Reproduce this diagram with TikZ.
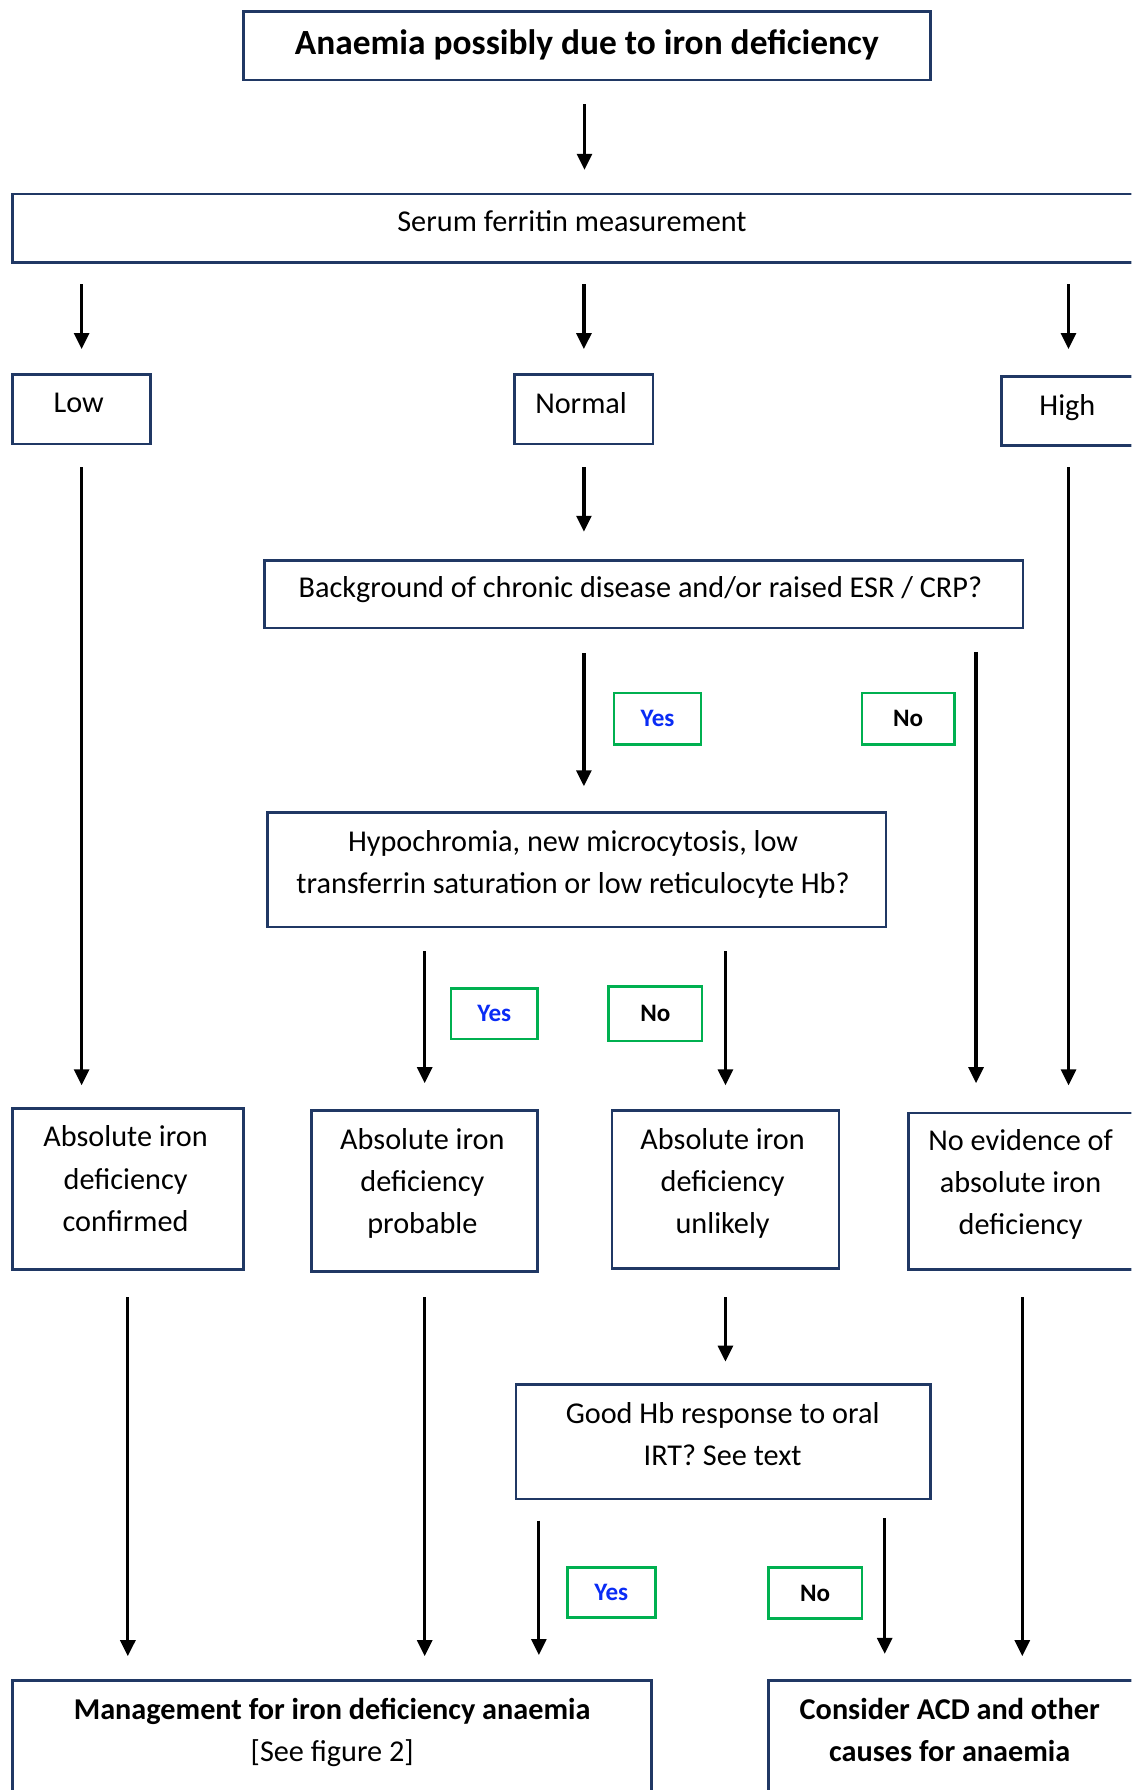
\documentclass[tikz,border=0pt]{standalone}
\usepackage{fontspec}
\setmainfont{Carlito}
\usetikzlibrary{arrows.meta}
\definecolor{navy}{HTML}{203864}
\definecolor{lblgreen}{HTML}{00B050}
\definecolor{yesblue}{HTML}{0A2CF5}
\newcommand{\bodyfont}{\fontsize{26.5}{37}\selectfont}
\newcommand{\titlefont}{\fontsize{31}{37}\selectfont\bfseries}
\newcommand{\lblfont}{\fontsize{22}{26}\selectfont\bfseries}
\begin{document}
\begin{tikzpicture}[x=1pt,y=-1pt,
  box/.style={draw=navy, line width=2.4pt, inner sep=0pt},
  lbl/.style={draw=lblgreen, line width=2.3pt, inner sep=0pt, font=\lblfont, text height=14pt, text depth=0pt},
  txt/.style={anchor=north, inner sep=0pt, align=center, font=\bodyfont},
  arr/.style={line width=2.8pt, -{Triangle[length=14pt,width=13pt]}}]
\clip (0,0) rectangle (991,1568);
% boxes
\node[box, minimum width=602pt, minimum height=60pt] (top) at (514,40) {};
\node[box, minimum width=983pt, minimum height=60pt] (serum) at (502.5,200) {};
\node[box, minimum width=121pt, minimum height=61pt] (low) at (71.5,358.5) {};
\node[box, minimum width=121pt, minimum height=61pt] (normal) at (511.5,358.5) {};
\node[box, minimum width=118pt, minimum height=60pt] (high) at (936,360) {};
\node[box, minimum width=664pt, minimum height=59pt] (bg) at (564,520.5) {};
\node[box, minimum width=542pt, minimum height=100pt] (hypo) at (505,762) {};
\node[box, minimum width=202pt, minimum height=141pt] (b1) at (112,1041.5) {};
\node[box, minimum width=198pt, minimum height=141pt] (b2) at (372,1043.5) {};
\node[box, minimum width=199pt, minimum height=138pt] (b3) at (635.5,1042) {};
\node[box, minimum width=199pt, minimum height=137pt] (b4) at (895.5,1043.5) {};
\node[box, minimum width=363pt, minimum height=100pt] (good) at (633.5,1263) {};
\node[box, minimum width=560pt, minimum height=108pt] (mgmt) at (291,1526) {};
\node[box, minimum width=322pt, minimum height=108pt] (cons) at (834,1526) {};
% texts
\node[txt, font=\titlefont] (toptxt) at (514,26) {Anaemia possibly due to iron deficiency};
\node[txt] (serumtxt) at (501,184) {Serum ferritin measurement};
\node[txt] (lowtxt) at (69,344) {Low};
\node[txt] (normaltxt) at (509,344) {Normal};
\node[txt] (hightxt) at (935,345) {High};
\node[txt] (bgtxt) at (561,505) {Background of chronic disease and/or raised ESR / CRP?};
\node[txt] (hypotxt) at (502,727) {Hypochromia, new microcytosis, low\\transferrin saturation or low reticulocyte Hb?};
\node[txt] (b1txt) at (110,986) {Absolute iron\\deficiency\\confirmed};
\node[txt] (b2txt) at (370,988) {Absolute iron\\deficiency\\probable};
\node[txt] (b3txt) at (633,988) {Absolute iron\\deficiency\\unlikely};
\node[txt] (b4txt) at (894,989) {No evidence of\\absolute iron\\deficiency};
\node[txt] (goodtxt) at (633,1228) {Good Hb response to oral\\IRT? See text};
\node[txt] (mgmttxt) at (291,1487) {{\bfseries Management for iron deficiency anaemia}\\{[See figure 2]}};
\node[txt, font=\bodyfont\bfseries] (constxt) at (832,1487) {Consider ACD and other\\causes for anaemia};
% labels
\node[lbl, minimum width=76pt, minimum height=45pt, text=yesblue] (yes1) at (576,629.5) {Yes};
\node[lbl, minimum width=81pt, minimum height=45pt] (no1) at (795.5,629.5) {No};
\node[lbl, minimum width=76pt, minimum height=44pt, text=yesblue] (yes2) at (433,888) {Yes};
\node[lbl, minimum width=82pt, minimum height=48pt] (no2) at (574,888) {No};
\node[lbl, minimum width=77pt, minimum height=44pt, text=yesblue] (yes3) at (535.5,1395) {Yes};
\node[lbl, minimum width=82pt, minimum height=45pt] (no3) at (714,1395.5) {No};
% helper coordinates
\coordinate (bgno) at (855,550);
\coordinate (goodyes) at (472,1313);
\coordinate (goodno) at (775,1313);
% arrows
\draw[arr, shorten <=20pt, shorten >=20pt] (top.south -| 512,0) -- (serum.north -| 512,0);
\draw[arr, shorten <=18pt, shorten >=21pt] (serum.south -| low.north) -- (low.north);
\draw[arr, shorten <=18pt, shorten >=21pt] (serum.south -| normal.north) -- (normal.north);
\draw[arr, shorten <=18pt, shorten >=23pt] (serum.south -| high.north) -- (high.north);
\draw[arr, shorten <=19pt, shorten >=19pt] (low.south) -- (low.south |- b1.north);
\draw[arr, shorten <=19pt, shorten >=24pt] (normal.south) -- (normal.south |- bg.north);
\draw[arr, shorten <=18pt, shorten >=23pt] (high.south) -- (high.south |- b4.north);
\draw[arr, shorten <=21pt, shorten >=22pt] (bg.south -| normal.south) -- (hypo.north -| normal.south);
\draw[arr, shorten <=21pt, shorten >=25pt] (bgno) -- (bgno |- b4.north);
\draw[arr, shorten <=20pt, shorten >=23pt] (hypo.south -| b2.north) -- (b2.north);
\draw[arr, shorten <=20pt, shorten >=21pt] (hypo.south -| b3.north) -- (b3.north);
\draw[arr, shorten <=23pt, shorten >=20pt] (b1.south) -- (b1.south |- mgmt.north);
\draw[arr, shorten <=21pt, shorten >=20pt] (b2.south) -- (b2.south |- mgmt.north);
\draw[arr, shorten <=24pt, shorten >=19pt] (b3.south) -- (b3.south |- good.north);
\draw[arr, shorten <=23pt, shorten >=20pt] (b4.south) -- (b4.south |- cons.north);
\draw[arr, shorten <=19pt, shorten >=21pt] (goodyes) -- (goodyes |- mgmt.north);
\draw[arr, shorten <=17pt, shorten >=22pt] (goodno) -- (goodno |- cons.north);
\end{tikzpicture}
\end{document}
